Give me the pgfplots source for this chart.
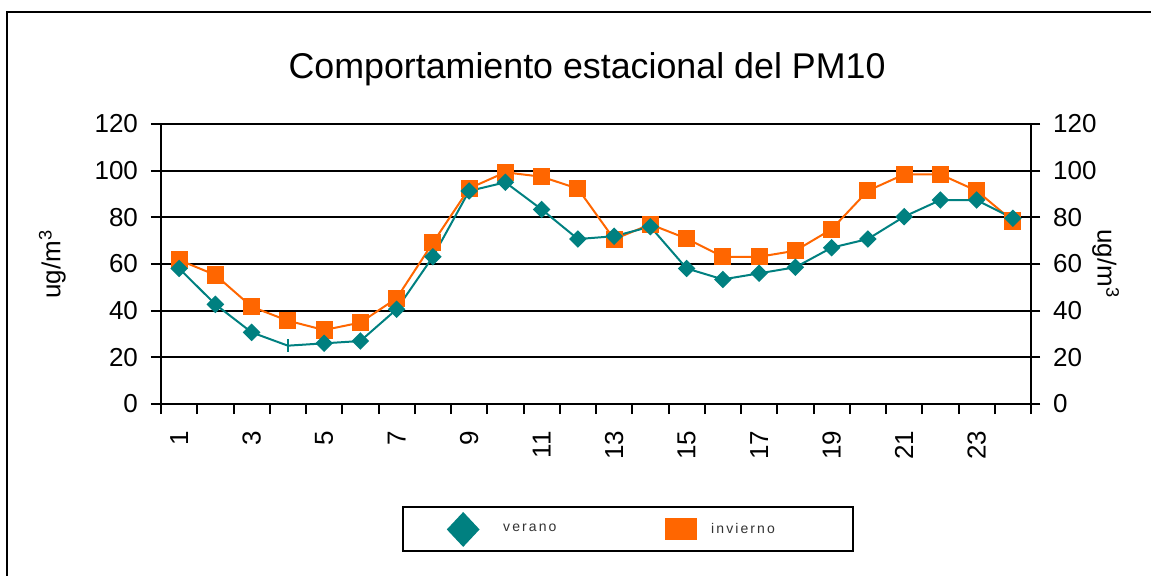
\documentclass[border=0pt]{standalone}
\usepackage{fontspec}
\setmainfont{Liberation Sans}
\newfontfamily\legfont[LetterSpace=15]{Liberation Sans}
\usepackage{pgfplots}
\usepackage{pgfplotstable}
\pgfplotsset{compat=1.18}
\definecolor{tealc}{HTML}{008080}
\definecolor{orng}{HTML}{FF6600}

\pgfplotstableread{
x verano invierno
1  58.1 61.7
2  42.7 55.3
3  30.7 41.7
4  25.0 35.7
5  26.0 31.7
6  27.0 34.9
7  40.6 45.3
8  63.1 69.1
9  91.3 92.4
10 95.0 99.3
11 83.4 97.4
12 70.7 92.3
13 71.9 70.6
14 76.0 77.0
15 58.1 70.9
16 53.4 63.1
17 56.0 63.1
18 58.6 65.7
19 67.0 74.9
20 70.7 91.4
21 80.3 98.4
22 87.4 98.4
23 87.4 91.4
24 79.6 78.4
}\datatable

\begin{document}
\begin{tikzpicture}
\useasboundingbox (0,0) rectangle (575.5pt,287.5pt);
\draw[line width=1pt] (3.5pt,-2pt) -- (3.5pt,281.5pt) -- (578pt,281.5pt);
\begin{axis}[
  at={(80.5pt,85.5pt)}, anchor=south west,
  scale only axis, width=435pt, height=140pt,
  xmin=0.5, xmax=24.5, ymin=0, ymax=120,
  axis x line*=bottom, axis y line*=left,
  axis line style={line width=1pt, -},
  xtick={0.5,1.5,...,24.5}, xticklabels={},
  extra x ticks={1,3,5,7,9,11,13,15,17,19,21,23},
  extra x tick style={major tick length=0pt, xticklabel style={rotate=90, anchor=east}},
  xticklabel shift=10pt,
  ytick={0,20,...,120},
  yticklabel shift=3pt,
  ymajorgrids, grid style={black, line width=1pt},
  tick style={black, line width=1pt},
  tick align=outside, major tick length=5pt,
  tick label style={font=\fontsize{13}{15}\selectfont},
  /pgf/number format/assume math mode=true,
  title={Comportamiento estacional del PM10},
  title style={at={(axis description cs:0.4897,1.1214)}, anchor=base, font=\fontsize{17.9}{21}\selectfont, inner sep=0pt},
  ylabel={ug/m\textsuperscript{3}},
  every axis y label/.style={at={(axis description cs:-0.109,0.5)}, rotate=90, anchor=south, inner sep=0pt, font=\fontsize{13}{15}\selectfont},
  reverse legend,
  legend columns=2,
  legend cell align=left,
  legend style={at={(axis description cs:0.537,-0.448)}, anchor=center, draw=black, line width=1pt, inner sep=0pt,
    font=\legfont\fontsize{7}{8}\selectfont, text=black!80,
    nodes={inner sep=0pt},
    /tikz/every even column/.append style={column sep=0pt}},
]
\addplot[orng, line width=1pt, mark=square*, mark size=3.8pt, mark options={solid},
  legend image code/.code={
    \path[draw=none, fill=none] (0pt,-11pt) rectangle (78pt,11pt);
    \fill[orng] (55.5pt,-5pt) rectangle (70.5pt,5pt);
  }] table[x=x, y=invierno] {\datatable};
\addlegendentry{\makebox[71pt][l]{invierno}}
\addplot[tealc, line width=1pt, mark=square*, mark size=2.6pt, mark options={solid, rotate=45},
  mark indices={1,2,3,5,6,7,8,9,10,11,12,13,14,15,16,17,18,19,20,21,22,23,24},
  legend image code/.code={
    \path[draw=none, fill=none] (0pt,-11pt) rectangle (50pt,11pt);
    \fill[tealc] (30pt,8pt) -- (37.5pt,0pt) -- (30pt,-8pt) -- (22.5pt,0pt) -- cycle;
  }] table[x=x, y=verano] {\datatable};
\addlegendentry{\makebox[26pt][l]{verano}}
\addplot[tealc, only marks, mark=|, mark size=3.3pt, line width=0.8pt, forget plot] coordinates {(4,25.0)};
\end{axis}
\begin{axis}[
  at={(80.5pt,85.5pt)}, anchor=south west,
  scale only axis, width=435pt, height=140pt,
  xmin=0.5, xmax=24.5, ymin=0, ymax=120,
  hide x axis, axis y line*=right,
  axis line style={line width=1pt, -},
  ytick={0,20,...,120},
  tick style={black, line width=1pt},
  tick align=center, major tick length=9pt,
  yticklabel shift=3pt,
  tick label style={font=\fontsize{13}{15}\selectfont},
  /pgf/number format/assume math mode=true,
  ylabel={ug/m\textsuperscript{3}},
  every axis y label/.style={at={(axis description cs:1.070,0.5)}, rotate=-90, anchor=south, inner sep=0pt, font=\fontsize{13}{15}\selectfont},
]
\end{axis}
\end{tikzpicture}
\end{document}
